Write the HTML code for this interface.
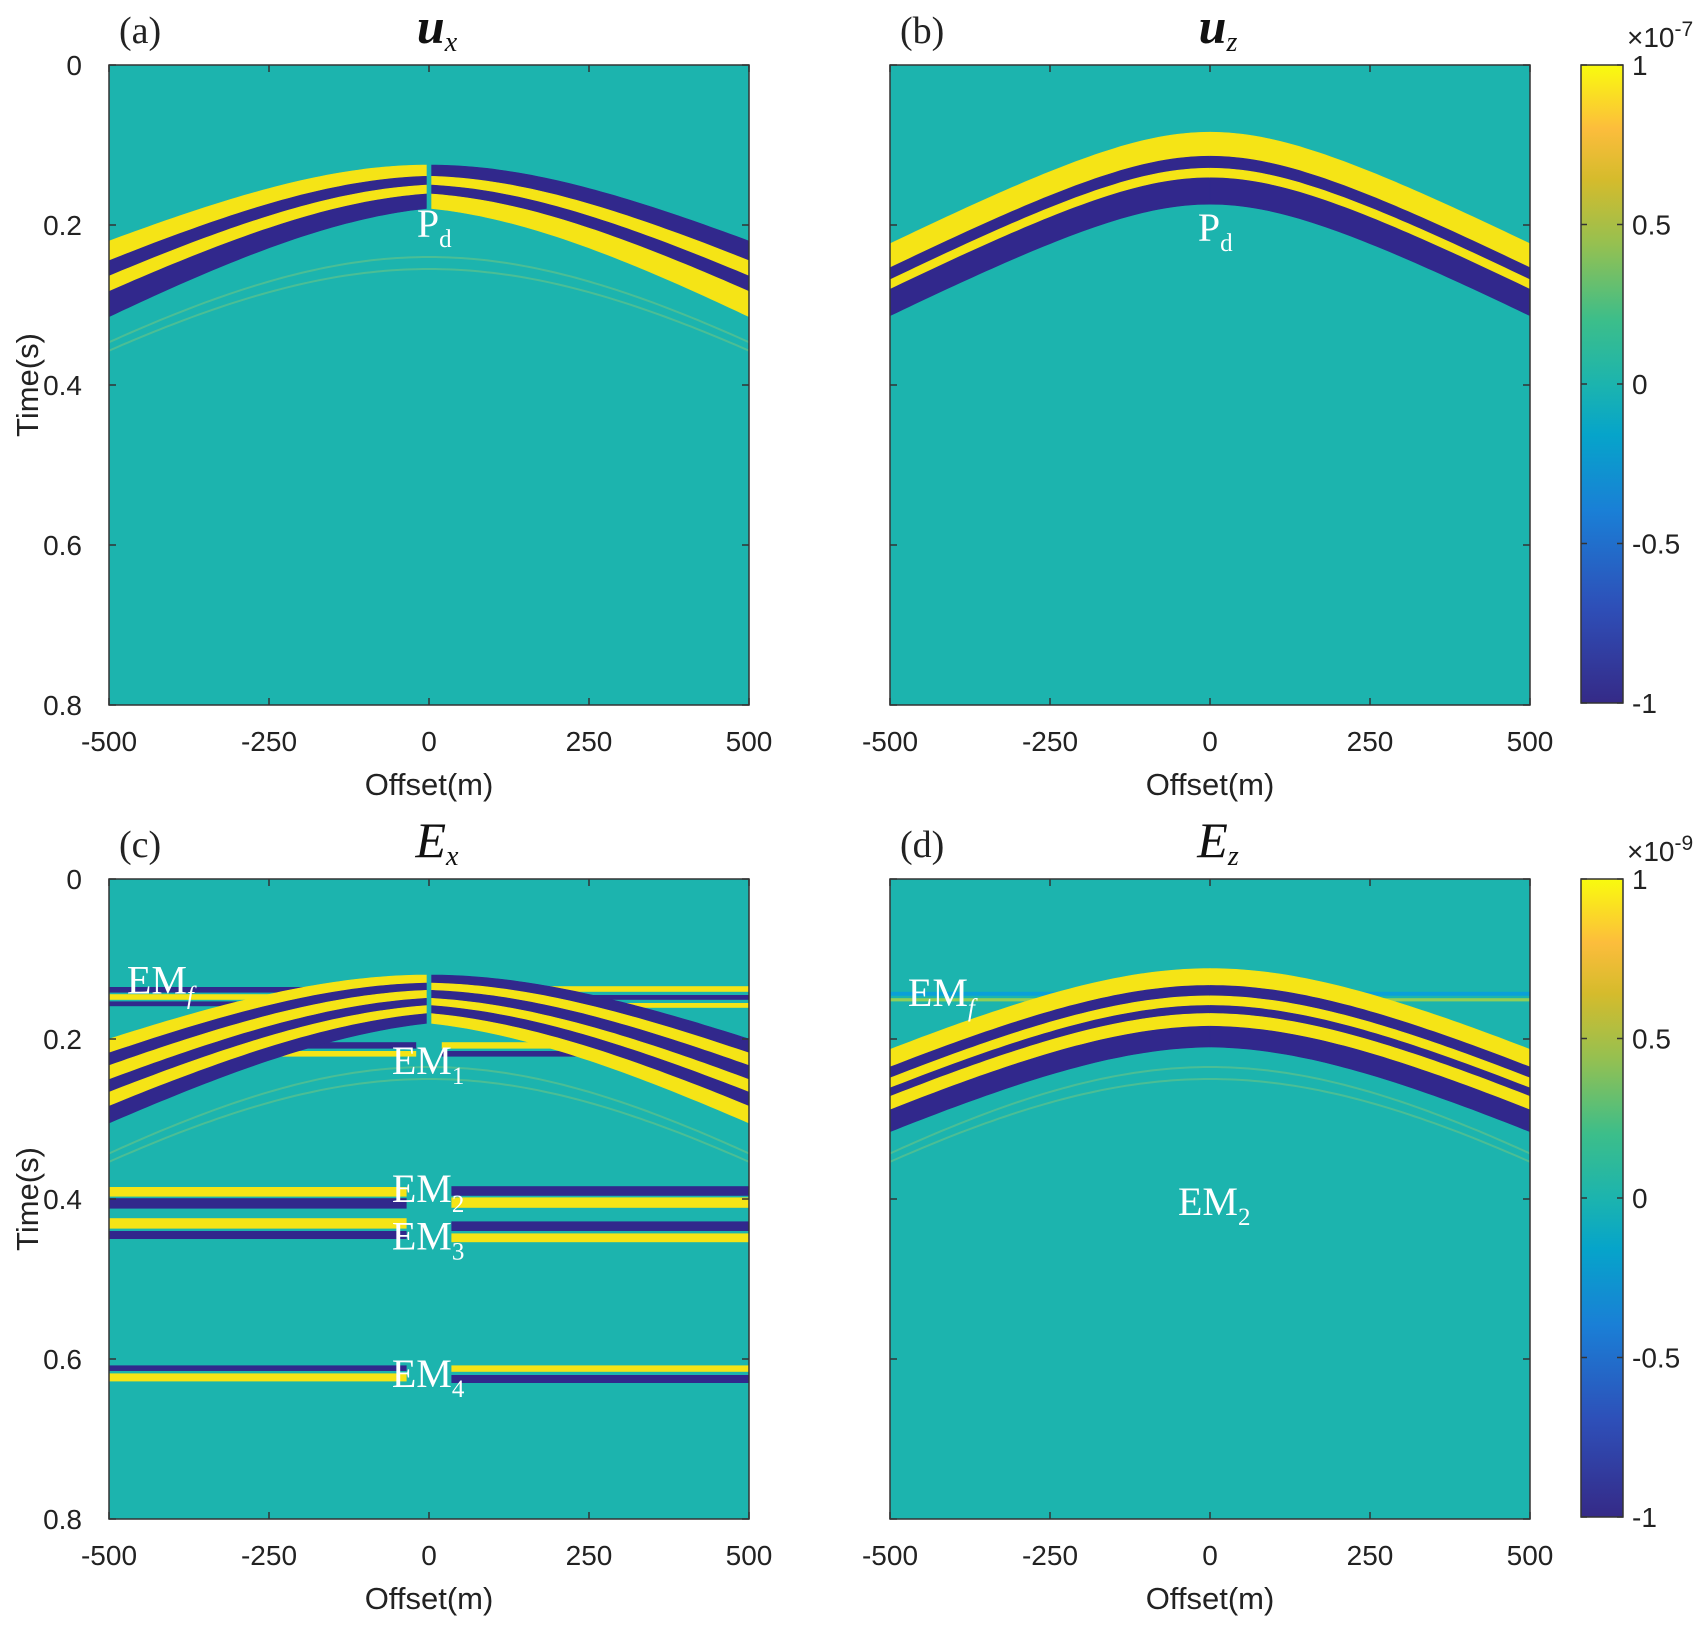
<!DOCTYPE html>
<html><head><meta charset="utf-8">
<style>
html,body{margin:0;padding:0;background:#fff;}
svg{display:block;}
.tk{font-family:"Liberation Sans",Arial,sans-serif;font-size:28px;fill:#222;}
.lab{font-family:"Liberation Sans",Arial,sans-serif;font-size:31px;fill:#222;}
.pan{font-family:"Liberation Serif",serif;font-size:38px;fill:#222;}
.ttl{font-family:"Liberation Serif",serif;font-style:italic;font-size:50px;fill:#111;}
.ann{font-family:"Liberation Serif",serif;font-size:40px;fill:#fff;}
</style></head>
<body>
<svg id="fig" width="1706" height="1627" viewBox="0 0 1706 1627" xmlns="http://www.w3.org/2000/svg">
<defs>
<linearGradient id="parula" x1="0" y1="1" x2="0" y2="0">
<stop offset="0" stop-color="#352a87"/>
<stop offset="0.15" stop-color="#2e4fb8"/>
<stop offset="0.3" stop-color="#1a7fd6"/>
<stop offset="0.42" stop-color="#06a4ca"/>
<stop offset="0.5" stop-color="#1cb4ae"/>
<stop offset="0.6" stop-color="#3cbe8a"/>
<stop offset="0.72" stop-color="#96c050"/>
<stop offset="0.82" stop-color="#d5bb2c"/>
<stop offset="0.9" stop-color="#fcbd3c"/>
<stop offset="1" stop-color="#f9fb0e"/>
</linearGradient>
</defs>
<g id="root"></g>
</svg>
<script>
// ---- data ----
const xTicks = [-500, -250, 0, 250, 500];
const yTicks = [0, 0.2, 0.4, 0.6, 0.8];
const yTickLabels = ["0", "0.2", "0.4", "0.6", "0.8"];
const cbTicks = [1, 0.5, 0, -0.5, -1];
const cbTickLabels = ["1", "0.5", "0", "-0.5", "-1"];
const panels = [
 {id:"a", x:109, y:65, w:640, h:640, tag:"(a)", title:"u", sub:"x", ylab:true, bold:true},
 {id:"b", x:890, y:65, w:640, h:640, tag:"(b)", title:"u", sub:"z", ylab:false, bold:true},
 {id:"c", x:109, y:879, w:640, h:640, tag:"(c)", title:"E", sub:"x", ylab:true, bold:false},
 {id:"d", x:890, y:879, w:640, h:640, tag:"(d)", title:"E", sub:"z", ylab:false, bold:false}
];
const hypT0 = {a:0.125, b:0.084, c:0.12, d:0.112};
const hypV = {a:2760, b:2415, c:3125, d:2760};
const hypK = {a:0.75, b:0.0, c:0.75, d:0.05};
const hypGap = {a:4, b:0, c:4, d:0};
const bandsLeft = {
 a:[[0,0.014,"Y"],[0.014,0.025,"B"],[0.025,0.036,"Y"],[0.036,0.054,"B"]],
 b:[[0,0.03,"Y"],[0.03,0.045,"B"],[0.045,0.057,"Y"],[0.057,0.09,"B"]],
 c:[[0,0.01,"Y"],[0.01,0.019,"B"],[0.019,0.029,"Y"],[0.029,0.038,"B"],[0.038,0.048,"Y"],[0.048,0.06,"B"]],
 d:[[0,0.021,"Y"],[0.021,0.034,"B"],[0.034,0.046,"Y"],[0.046,0.056,"B"],[0.056,0.072,"Y"],[0.072,0.098,"B"]]
};
const bandsRight = {
 a:[[0,0.014,"B"],[0.014,0.025,"Y"],[0.025,0.036,"B"],[0.036,0.054,"Y"]],
 b:bandsLeft.b,
 c:[[0,0.01,"B"],[0.01,0.019,"Y"],[0.019,0.029,"B"],[0.029,0.038,"Y"],[0.038,0.048,"B"],[0.048,0.06,"Y"]],
 d:bandsLeft.d
};
const flatEvents = [
 ["c",-500,-20,0.135,0.142,"B"],["c",-500,-20,0.144,0.151,"Y"],["c",-500,-20,0.153,0.159,"B"],
 ["c",20,500,0.134,0.141,"Y"],["c",20,500,0.145,0.151,"B"],["c",20,500,0.155,0.161,"Y"],
 ["c",-300,-20,0.204,0.212,"B"],["c",-300,-20,0.215,0.222,"Y"],
 ["c",20,300,0.204,0.212,"Y"],["c",20,300,0.215,0.222,"B"],
 ["c",-500,-35,0.385,0.397,"Y"],["c",-500,-35,0.399,0.412,"B"],
 ["c",35,500,0.384,0.396,"B"],["c",35,500,0.398,0.411,"Y"],
 ["c",-500,-35,0.424,0.437,"Y"],["c",-500,-35,0.440,0.450,"B"],
 ["c",35,500,0.428,0.440,"B"],["c",35,500,0.443,0.454,"Y"],
 ["c",-500,-35,0.608,0.615,"B"],["c",-500,-35,0.618,0.628,"Y"],
 ["c",35,500,0.608,0.616,"Y"],["c",35,500,0.620,0.630,"B"],
 ["d",-500,500,0.141,0.146,"L"],["d",-500,500,0.149,0.153,"G"]
];
const faintHyp = [["c",0.235,2000],["c",0.25,2000],["d",0.235,2000],["d",0.25,2000],["a",0.24,2000],["a",0.255,2000]];
const notes = [
 ["a","P","d",-19,0.215],["b","P","d",-19,0.22],
 ["c","EM","f",-472,0.143],["c","EM","1",-58,0.244],["c","EM","2",-58,0.404],["c","EM","3",-58,0.463],["c","EM","4",-58,0.635],
 ["d","EM","f",-472,0.159],["d","EM","2",-50,0.42]
];
const colours = {Y:"#f5e416", B:"#31288c", L:"#0aa0d8", G:"#8fcf5a"};

// ---- drawing ----
const NS = "http://www.w3.org/2000/svg";
const root = document.getElementById("root");
function mk(tag, attrs, parent){const e=document.createElementNS(NS,tag);for(const k in attrs)e.setAttribute(k,attrs[k]);(parent||root).appendChild(e);return e;}

panels.forEach(p=>{
 const xs = o => p.x + (o+500)/1000*p.w;
 const ys = t => p.y + t/0.8*p.h;
 const g = mk("g",{});
 
 
 const clip = mk("clipPath",{id:"clip"+p.id},g);
 mk("rect",{x:p.x,y:p.y,width:p.w,height:p.h},clip);
 const bg = mk("rect",{x:p.x,y:p.y,width:p.w,height:p.h,fill:"#1cb4ae"},g);
 
 
 const plot = mk("g",{"clip-path":"url(#clip"+p.id+")"},g);
 faintHyp.filter(f=>f[0]===p.id).forEach(f=>{
  let d="";
  for(let o=-500;o<=500;o+=10){const t=Math.sqrt(f[1]*f[1]+(o/f[2])**2);d+=(o===-500?"M":"L")+xs(o).toFixed(1)+","+ys(t).toFixed(1);}
  const e=mk("path",{d:d,fill:"none",stroke:"#5fc28a",'stroke-width':2,opacity:0.7},plot);
  
  
 });
 flatEvents.filter(f=>f[0]===p.id).forEach(f=>{
  const e=mk("rect",{x:xs(f[1]),y:ys(f[3]),width:xs(f[2])-xs(f[1]),height:ys(f[4])-ys(f[3]),fill:colours[f[5]]},plot);
  
  
 });
 const t0=hypT0[p.id], v=hypV[p.id], k=hypK[p.id], gap=hypGap[p.id];
 const head = o => Math.sqrt(t0*t0+(o/v)**2);
 function band(side, b){
  const os=[];
  if(side<0){for(let o=-500;o<-gap;o+=10)os.push(o);os.push(-gap);} else {os.push(gap);for(let o=10;o<=500;o+=10)os.push(o);}
  const s = o => 1 + k*Math.abs(o)/500;
  let top=os.map(o=>xs(o).toFixed(1)+","+ys(head(o)+b[0]*s(o)).toFixed(1));
  let bot=os.slice().reverse().map(o=>xs(o).toFixed(1)+","+ys(head(o)+b[1]*s(o)).toFixed(1));
  const e=mk("polygon",{points:top.concat(bot).join(" "),fill:colours[b[2]],stroke:colours[b[2]],'stroke-width':0.6},plot);
  
  
 }
 bandsLeft[p.id].forEach(b=>band(-1,b));
 bandsRight[p.id].forEach(b=>band(1,b));
 const fr=mk("rect",{x:p.x,y:p.y,width:p.w,height:p.h,fill:"none",stroke:"#333",'stroke-width':1.5},g);
 
 
 xTicks.forEach(o=>{
  mk("line",{x1:xs(o),x2:xs(o),y1:p.y+p.h,y2:p.y+p.h-7,stroke:"#333",'stroke-width':1.5},g);
  mk("line",{x1:xs(o),x2:xs(o),y1:p.y,y2:p.y+7,stroke:"#333",'stroke-width':1.5},g);
  const t=mk("text",{x:xs(o),y:p.y+p.h+46,'text-anchor':"middle",class:"tk"},g);
  t.textContent=String(o);
  
  
 });
 yTicks.forEach((tv,i)=>{
  mk("line",{x1:p.x,x2:p.x+7,y1:ys(tv),y2:ys(tv),stroke:"#333",'stroke-width':1.5},g);
  mk("line",{x1:p.x+p.w,x2:p.x+p.w-7,y1:ys(tv),y2:ys(tv),stroke:"#333",'stroke-width':1.5},g);
  if(p.ylab){
   const t=mk("text",{x:p.x-27,y:ys(tv)+10,'text-anchor':"end",class:"tk"},g);
   t.textContent=yTickLabels[i];
   
   
  }
 });
 const xl=mk("text",{x:p.x+p.w/2,y:p.y+p.h+90,'text-anchor':"middle",class:"lab"},g);
 xl.textContent="Offset(m)";
 
 
 if(p.ylab){
  const yl=mk("text",{x:0,y:0,'text-anchor':"middle",class:"lab",transform:"translate(38,"+(p.y+p.h/2)+") rotate(-90)"},g);
  yl.textContent="Time(s)";
  
  
 }
 const tg=mk("text",{x:p.x+10,y:p.y-22,class:"pan"},g);
 tg.textContent=p.tag;
 
 
 const tt=mk("text",{x:p.x+p.w/2+8,y:p.y-22,'text-anchor':"middle",class:"ttl",'font-weight':p.bold?"bold":"normal"},g);
 tt.textContent=p.title;
 const ts=mk("tspan",{'font-size':"28",'font-weight':"normal",dy:"8"},tt);
 ts.textContent=p.sub;
 
 
 notes.filter(n=>n[0]===p.id).forEach(n=>{
  const e=mk("text",{x:xs(n[3]),y:ys(n[4]),class:"ann"},g);
  e.textContent=n[1];
  const s=mk("tspan",{'font-size':"25",dy:"10",'font-style':n[2]==="f"?"italic":"normal"},e);
  s.textContent=n[2];
  
  
 });
});

[[65,"-7"],[879,"-9"]].forEach((cb,ci)=>{
 const x=1581,y=cb[0],w=42,h=638;
 const g=mk("g",{});
 
 
 mk("rect",{x:x,y:y,width:w,height:h,fill:"url(#parula)",stroke:"#333",'stroke-width':1.5},g);
 cbTicks.forEach((v,i)=>{
  const yy=y+(1-v)/2*h;
  mk("line",{x1:x,x2:x+6,y1:yy,y2:yy,stroke:"#333",'stroke-width':1.5},g);
  mk("line",{x1:x+w,x2:x+w-6,y1:yy,y2:yy,stroke:"#333",'stroke-width':1.5},g);
  const t=mk("text",{x:x+51,y:yy+10,class:"tk"},g);
  t.textContent=cbTickLabels[i];
  
  
 });
 const m=mk("text",{x:x+46,y:y-18,class:"tk",'font-size':"25"},g);
 m.textContent="×10";
 const ms=mk("tspan",{'font-size':"21",dy:"-11"},m);
 ms.textContent=cb[1];
 
 
});
</script>
</body></html>
